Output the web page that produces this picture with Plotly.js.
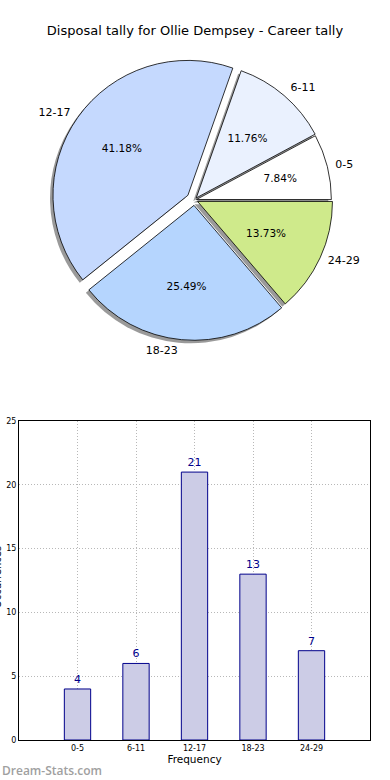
<!DOCTYPE html>
<html>
<head>
<meta charset="utf-8">
<script src="https://cdn.plot.ly/plotly-3.0.1.min.js"></script>
<style>html,body{margin:0;padding:0;background:#fff;}#chart{width:390px;height:780px;}</style>
</head>
<body>
<div id="chart"></div>
<script>
const categories = ["0-5", "6-11", "12-17", "18-23", "24-29"];
const counts = [4, 6, 21, 13, 7];
const sliceColors = ["#ffffff", "#eaf1fe", "#c5d9fe", "#b5d5fe", "#cfea8b"];
const pulls = [0.015, 0.02, 0.06, 0.04, 0.025];
const titleText = "Disposal tally for Ollie Dempsey - Career tally";
const xTitle = "Frequency";
const yTitle = "Occurrences";
const yTicks = [0, 5, 10, 15, 20, 25];

const font = "DejaVu Sans, sans-serif";
const pieDomain = {x: [0.05, 0.95], y: [0.5365, 0.923]};
const innerDomain = {x: [0.1, 0.9], y: [0.5752, 0.8843]};
const shadowDomain = {x: [0.0415, 0.9415], y: [0.5325, 0.919]};
const labelDomain = {x: [0, 1], y: [0.53, 0.93]};
const bigSlice = counts.map(v => v / counts.reduce((a, b) => a + b, 0) > 0.2);

const pieCommon = {
  type: "pie", values: counts, labels: categories, sort: false,
  direction: "counterclockwise", rotation: 61.8, pull: pulls,
  hoverinfo: "skip", showlegend: false
};
const clear = categories.map(() => "rgba(0,0,0,0)");
const pctFont = {family: font, size: 10.5, color: "#000"};

const shadow = Object.assign({}, pieCommon, {
  domain: shadowDomain,
  marker: {colors: categories.map(() => "rgba(120,120,120,0.75)"), line: {width: 0}},
  textinfo: "none"
});

const pieMain = Object.assign({}, pieCommon, {
  domain: pieDomain,
  marker: {colors: sliceColors, line: {color: "#000", width: 0.8}},
  textinfo: "none"
});

const piePctBig = Object.assign({}, pieCommon, {
  domain: pieDomain, hole: 0.2,
  marker: {colors: clear, line: {width: 0}},
  texttemplate: bigSlice.map(b => b ? "%{percent:.2%}" : ""),
  textposition: "inside",
  insidetextorientation: "horizontal",
  insidetextfont: pctFont
});

const piePctSmall = Object.assign({}, pieCommon, {
  domain: innerDomain,
  marker: {colors: clear, line: {width: 0}},
  texttemplate: bigSlice.map(b => b ? "" : "%{percent:.2%}"),
  textposition: "inside",
  insidetextorientation: "horizontal",
  insidetextfont: pctFont
});

const pieLabels = Object.assign({}, pieCommon, {
  domain: labelDomain,
  marker: {colors: clear, line: {width: 0}},
  texttemplate: "%{label}",
  textposition: "outside",
  outsidetextfont: {family: font, size: 11, color: "#000"}
});

const bars = {
  type: "bar", x: categories.map((c, i) => i), y: counts,
  width: 0.45,
  marker: {color: "#cccce6", line: {color: "#00008b", width: 1}},
  text: counts.map(String), textposition: "outside",
  textfont: {family: font, size: 11, color: "#00008b"},
  cliponaxis: false,
  xaxis: "x", yaxis: "y", hoverinfo: "skip", showlegend: false
};

const layout = {
  width: 390, height: 780,
  margin: {l: 19, r: 20, t: 0, b: 40},
  paper_bgcolor: "#fff", plot_bgcolor: "#fff",
  font: {family: font, color: "#000"},
  title: {text: titleText, font: {family: font, size: 13, color: "#000"},
          x: 0.5, xanchor: "center", y: 1 - 30/780, yanchor: "middle", yref: "container"},
  xaxis: {
    domain: [0, 1], range: [-1, 5],
    tickmode: "array", tickvals: categories.map((c, i) => i), ticktext: categories,
    tickfont: {family: font, size: 8, color: "#000"},
    showgrid: true, gridcolor: "#b8b8b8", griddash: "1px,2px", gridwidth: 1,
    showline: true, mirror: true, linecolor: "#000", linewidth: 1,
    zeroline: false, ticks: "",
    title: {text: xTitle, font: {family: font, size: 10.5, color: "#000"}, standoff: 2}
  },
  yaxis: {
    domain: [0, 0.431], range: [0, 25],
    tickmode: "array", tickvals: yTicks,
    tickfont: {family: font, size: 8, color: "#000"},
    showgrid: true, gridcolor: "#b8b8b8", griddash: "1px,2px", gridwidth: 1,
    showline: true, mirror: true, linecolor: "#000", linewidth: 1,
    zeroline: false, ticks: ""
  },
  annotations: [{
    text: yTitle, xref: "paper", yref: "paper", textangle: -90,
    x: -22/351, xanchor: "center", y: 0.22, yanchor: "middle",
    showarrow: false, font: {family: font, size: 10, color: "#000"}
  }, {
    text: "Dream-Stats.com", xref: "paper", yref: "paper",
    x: -19/351, xanchor: "left", y: -30/740, yanchor: "middle",
    showarrow: false, font: {family: "Open Sans, sans-serif", size: 12, color: "#a0a0a0", weight: 600}
  }]
};

Plotly.newPlot("chart", [shadow, pieMain, piePctBig, piePctSmall, pieLabels, bars], layout, {displayModeBar: false, staticPlot: true});
</script>
</body>
</html>
